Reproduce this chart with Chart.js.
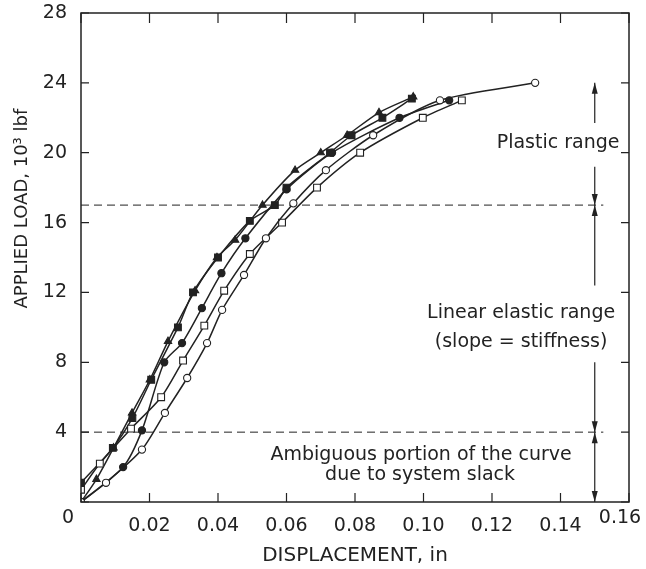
<!DOCTYPE html>
<html>
<head>
<meta charset="utf-8">
<script src="https://cdn.jsdelivr.net/npm/chart.js@4.4.1/dist/chart.umd.min.js"></script>
<style>
  html, body { margin: 0; padding: 0; background: #fff; }
  #wrap { width: 646px; height: 569px; }
</style>
</head>
<body>
<div id="wrap"><canvas id="myChart" width="646" height="569"></canvas></div>
<script>
// tick values
const xTicks = [0, 0.02, 0.04, 0.06, 0.08, 0.10, 0.12, 0.14, 0.16];
const yTicks = [0, 4, 8, 12, 16, 20, 24, 28];

// filled triangles (stiffest specimen)
const triX = [0, 0.0045, 0.0095, 0.0149, 0.0201, 0.0254, 0.0333, 0.0397, 0.045, 0.053, 0.0625, 0.0700, 0.0777, 0.0870, 0.0970];
const triY = [0, 1.3, 3.1, 5.1, 7.0, 9.2, 12.1, 14.0, 15.0, 17.0, 19.0, 20.0, 21.0, 22.3, 23.2];
// filled squares
const fsqX = [0, 0.0093, 0.0150, 0.0205, 0.0283, 0.0327, 0.040, 0.0493, 0.0566, 0.060, 0.0727, 0.079, 0.088, 0.0966];
const fsqY = [1.1, 3.1, 4.8, 7.0, 10.0, 12.0, 14.0, 16.1, 17.0, 18.0, 20.0, 21.0, 22.0, 23.1];
// filled circles
const fcirX = [0, 0.0123, 0.0178, 0.0243, 0.0295, 0.0353, 0.041, 0.048, 0.060, 0.0733, 0.093, 0.1075];
const fcirY = [0, 2.0, 4.1, 8.0, 9.1, 11.1, 13.1, 15.1, 17.9, 20.0, 22.0, 23.0];
// open squares
const osqX = [0, 0.0055, 0.0146, 0.0234, 0.0298, 0.036, 0.0418, 0.0493, 0.0587, 0.0689, 0.0815, 0.0998, 0.1112];
const osqY = [0.7, 2.2, 4.2, 6.0, 8.1, 10.1, 12.1, 14.2, 16.0, 18.0, 20.0, 22.0, 23.0];
// open circles
const ocirX = [0, 0.0073, 0.0178, 0.0245, 0.031, 0.0368, 0.0412, 0.0476, 0.054, 0.062, 0.0715, 0.0853, 0.1048, 0.1326];
const ocirY = [0, 1.1, 3.0, 5.1, 7.1, 9.1, 11.0, 13.0, 15.1, 17.1, 19.0, 21.0, 23.0, 24.0];

// range boundaries (dashed lines) and the annotation arrows at x = 0.15
const rangeY = [4, 17];
const rangeEndX = 0.1525;
const arrowX = 0.15;
const arrowFrom = [21.7, 19.2, 12.4, 8.0, 2.0, 2.0];
const arrowTo = [24, 17, 17, 4, 4, 0];

const FONT = "'DejaVu Sans', sans-serif";
const INK = '#222';

function pts(xs, ys) {
  return xs.map(function (x, i) { return { x: x, y: ys[i] }; });
}

function series(xs, ys, style, filled) {
  let r = 3.6;
  if (style === 'rect') r = 4.8;
  if (style === 'triangle') r = 4.2;
  return {
    data: pts(xs, ys),
    showLine: true,
    borderColor: INK,
    borderWidth: 1.5,
    tension: 0.25,
    pointStyle: style,
    pointRadius: r,
    pointBorderWidth: 1.1,
    pointBorderColor: INK,
    pointBackgroundColor: filled ? INK : '#fff'
  };
}

let datasets = [
  series(ocirX, ocirY, 'circle', false),
  series(osqX, osqY, 'rect', false),
  series(fcirX, fcirY, 'circle', true),
  series(fsqX, fsqY, 'rect', true),
  series(triX, triY, 'triangle', true)
];
rangeY.forEach(function (v) {
  datasets.push({
    data: [{ x: 0, y: v }, { x: rangeEndX, y: v }],
    showLine: true,
    borderColor: INK,
    borderWidth: 1,
    borderDash: [8, 5],
    pointRadius: 0
  });
});

function arrowHead(ctx, x, y, dir) {
  ctx.beginPath();
  ctx.moveTo(x, y);
  ctx.lineTo(x - 3, y - dir * 11);
  ctx.lineTo(x + 3, y - dir * 11);
  ctx.closePath();
  ctx.fill();
}

const frame = {
  id: 'frame',
  afterDraw: function (chart) {
    const ctx = chart.ctx;
    const a = chart.chartArea;
    const xs = chart.scales.x;
    const ys = chart.scales.y;
    ctx.save();
    ctx.strokeStyle = INK;
    ctx.fillStyle = INK;
    ctx.lineWidth = 1.5;
    ctx.strokeRect(a.left, a.top, a.right - a.left, a.bottom - a.top);

    // inward ticks on all four sides
    ctx.lineWidth = 1.2;
    xTicks.forEach(function (v) {
      const px = xs.getPixelForValue(v);
      ctx.beginPath();
      ctx.moveTo(px, a.bottom); ctx.lineTo(px, a.bottom - 9);
      ctx.moveTo(px, a.top); ctx.lineTo(px, a.top + 10);
      ctx.stroke();
    });
    yTicks.forEach(function (v) {
      const py = ys.getPixelForValue(v);
      ctx.beginPath();
      ctx.moveTo(a.left, py); ctx.lineTo(a.left + 8, py);
      ctx.moveTo(a.right, py); ctx.lineTo(a.right - 8, py);
      ctx.stroke();
    });

    // arrows
    const ax = xs.getPixelForValue(arrowX);
    ctx.lineWidth = 1.2;
    arrowFrom.forEach(function (f, i) {
      const y0 = ys.getPixelForValue(f);
      const y1 = ys.getPixelForValue(arrowTo[i]);
      ctx.beginPath();
      ctx.moveTo(ax, y0); ctx.lineTo(ax, y1);
      ctx.stroke();
      arrowHead(ctx, ax, y1, y1 > y0 ? 1 : -1);
    });

    // edge tick labels
    ctx.font = '19px ' + FONT;
    ctx.textBaseline = 'middle';
    ctx.textAlign = 'center';
    ctx.fillText('0', xs.getPixelForValue(0) - 13, a.bottom + 16);
    ctx.fillText('0.16', xs.getPixelForValue(0.16) - 9, a.bottom + 16);

    // range annotations
    ctx.font = '19px ' + FONT;
    ctx.fillText('Plastic range', xs.getPixelForValue(0.1393), ys.getPixelForValue(20.56));
    ctx.fillText('Linear elastic range', xs.getPixelForValue(0.1285), ys.getPixelForValue(10.82));
    ctx.fillText('(slope = stiffness)', xs.getPixelForValue(0.1285), ys.getPixelForValue(9.16));
    ctx.fillText('Ambiguous portion of the curve', xs.getPixelForValue(0.0993), ys.getPixelForValue(2.69));
    ctx.fillText('due to system slack', xs.getPixelForValue(0.099), ys.getPixelForValue(1.55));

    // y axis title, set a little above the axis centre as in the original
    ctx.translate(22, ys.getPixelForValue(16.8));
    ctx.rotate(-Math.PI / 2);
    ctx.font = '18px ' + FONT;
    ctx.fillText('APPLIED LOAD, 10³ lbf', 0, 0);
    ctx.restore();
  }
};

let ctx = document.getElementById('myChart');
let myChart = new Chart(ctx, {
  type: 'scatter',
  data: { datasets: datasets },
  options: {
    responsive: false,
    animation: false,
    events: [],
    layout: { padding: { top: 13, right: 17, left: 0, bottom: 0 } },
    plugins: { legend: { display: false }, tooltip: { enabled: false } },
    scales: {
      x: {
        type: 'linear',
        min: 0,
        max: 0.16,
        afterBuildTicks: function (s) { s.ticks = xTicks.map(function (v) { return { value: v }; }); },
        afterFit: function (s) { s.height = 67; s.paddingLeft = 0; s.paddingRight = 0; },
        grid: { display: false },
        border: { display: false },
        ticks: {
          color: INK,
          padding: 5,
          maxRotation: 0,
          autoSkip: false,
          font: { family: FONT, size: 19 },
          callback: function (v) { return (v === 0 || v === 0.16) ? '' : v.toFixed(2); }
        },
        title: {
          display: true,
          text: 'DISPLACEMENT, in',
          color: INK,
          font: { family: FONT, size: 20 },
          padding: { top: 0, bottom: 1 }
        }
      },
      y: {
        type: 'linear',
        min: 0,
        max: 28,
        afterBuildTicks: function (s) { s.ticks = yTicks.map(function (v) { return { value: v }; }); },
        afterFit: function (s) { s.width = 81; s.paddingTop = 0; s.paddingBottom = 0; },
        grid: { display: false },
        border: { display: false },
        ticks: {
          color: INK,
          padding: 6,
          autoSkip: false,
          font: { family: FONT, size: 19 },
          callback: function (v) { return v === 0 ? '' : String(v); }
        },
        title: { display: false }
      }
    }
  },
  plugins: [frame]
});
</script>
</body>
</html>
